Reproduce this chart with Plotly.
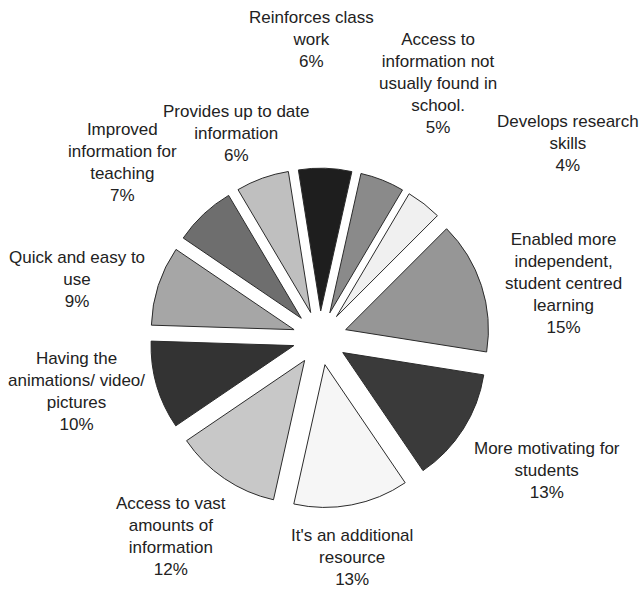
import plotly.graph_objects as go

# Survey responses: perceived benefits of using the internet in teaching
labels = [
    "Reinforces class<br>work",
    "Access to<br>information not<br>usually found in<br>school.",
    "Develops research<br>skills",
    "Enabled more<br>independent,<br>student centred<br>learning",
    "More motivating for<br>students",
    "It's an additional<br>resource",
    "Access to vast<br>amounts of<br>information",
    "Having the<br>animations/ video/<br>pictures",
    "Quick and easy to<br>use",
    "Improved<br>information for<br>teaching",
    "Provides up to date<br>information",
]
percents = [6, 5, 4, 15, 13, 13, 12, 10, 9, 7, 6]
colors = [
    "#1e1e1e", "#8a8a8a", "#f0f0f0", "#969696", "#3a3a3a", "#f6f6f6",
    "#c8c8c8", "#333333", "#a6a6a6", "#6e6e6e", "#bfbfbf",
]

# label block centres in pixels (x from left, y from top)
label_pos = [
    (311, 40), (438, 83), (568, 144), (563, 283), (547, 470), (352, 557),
    (171, 536), (76, 391), (77, 279), (122, 162), (236, 134),
]

W, H = 641, 592

fig = go.Figure(
    go.Pie(
        labels=[l.replace("<br>", " ") for l in labels],
        values=percents,
        sort=False,
        direction="clockwise",
        rotation=-9,
        pull=[0.19] * len(percents),
        marker=dict(colors=colors, line=dict(color="#2b2b2b", width=1)),
        textinfo="none",
        hoverinfo="label+percent",
        domain=dict(x=[0.234, 0.764], y=[0.142, 0.716]),
        showlegend=False,
    )
)

for lab, pct, (px, py) in zip(labels, percents, label_pos):
    fig.add_annotation(
        x=px / W, y=1 - py / H, xref="paper", yref="paper",
        xanchor="center", yanchor="middle", align="center",
        text=f"{lab}<br>{pct}%", showarrow=False,
        font=dict(family="Liberation Sans, Arial, sans-serif", size=17, color="#222222"),
    )

fig.update_layout(
    width=W, height=H,
    margin=dict(l=0, r=0, t=0, b=0),
    paper_bgcolor="white", plot_bgcolor="white",
)

fig.write_html("out.html")
